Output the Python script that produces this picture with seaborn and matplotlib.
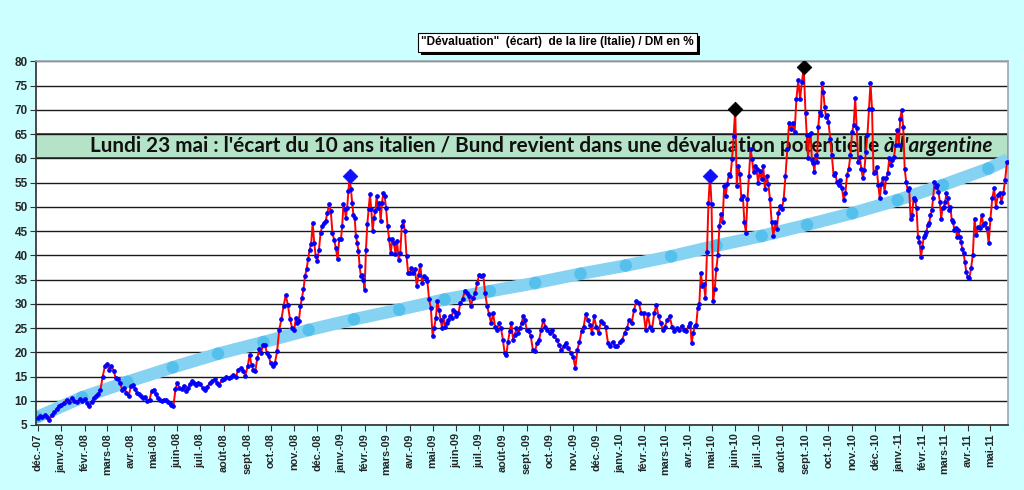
import pandas as pd
import seaborn as sns
import matplotlib.pyplot as plt
from matplotlib.patches import Rectangle

# Mois affichés sur l'axe x
mois = pd.date_range("2007-12-01", "2011-05-01", freq="MS")
etiquettes_mois = [
    "déc.-07",
    "janv.-08", "févr.-08", "mars-08", "avr.-08", "mai-08", "juin-08",
    "juil.-08", "août-08", "sept.-08", "oct.-08", "nov.-08", "déc.-08",
    "janv.-09", "févr.-09", "mars-09", "avr.-09", "mai-09", "juin-09",
    "juil.-09", "août-09", "sept.-09", "oct.-09", "nov.-09", "déc.-09",
    "janv.-10", "févr.-10", "mars-10", "avr.-10", "mai-10", "juin-10",
    "juil.-10", "août-10", "sept.-10", "oct.-10", "nov.-10", "déc.-10",
    "janv.-11", "févr.-11", "mars-11", "avr.-11", "mai-11",
]

# Ecart (en %), mois par mois
v2007 = [
    [6.4, 6.8, 6.6, 7.0, 6.7, 6.0, 7.1, 7.6, 8.3, 8.9],
]
v2008 = [
    [9.2, 9.6, 10.2, 9.7, 10.6, 10.0, 9.8, 10.3, 9.9],
    [10.4, 9.6, 8.9, 9.8, 10.6, 11.0, 11.4, 12.3, 15.0, 17.1],
    [17.5, 16.4, 17.2, 16.2, 14.7, 14.5, 13.7, 12.3, 12.6, 11.7, 10.9],
    [13.0, 13.3, 12.4, 11.6, 11.3, 10.9, 10.6, 10.8, 9.9, 10.2, 12.0],
    [12.3, 11.3, 10.6, 10.1, 9.9, 10.2, 10.1, 9.7, 9.5, 9.2, 8.9, 12.4],
    [13.7, 12.6, 12.4, 13.1, 12.0, 12.7, 13.4, 14.0, 13.6, 13.2, 13.7],
    [13.4, 12.6, 12.3, 12.9, 13.7, 14.0, 14.4, 13.7, 13.3, 14.2],
    [14.4, 15.0, 14.6, 15.0, 15.3, 14.9, 16.4, 16.7, 16.2, 15.2],
    [17.1, 19.5, 17.3, 16.4, 16.1, 18.8, 20.6, 19.8, 21.6, 21.6, 19.9, 19.2],
    [17.8, 17.1, 17.8, 20.2, 24.7, 26.8, 29.5, 31.8, 29.8, 26.8, 25.0],
    [24.7, 27.1, 26.0, 26.5, 29.5, 31.2, 33.0, 35.7, 37.1, 39.2, 41.2, 42.3, 46.7, 42.6, 39.8],
    [38.8, 41.2, 44.7, 46.0, 46.7, 47.1, 48.8, 50.5, 49.1, 44.6, 43.2, 41.5, 39.2, 43.3],
]
v2009 = [
    [43.3, 46.0, 50.5, 49.5, 47.8, 49.8, 53.3, 56.4, 53.6, 50.9, 48.4, 47.8, 44.0, 42.6, 40.9, 37.8, 35.7, 36.0, 34.9],
    [32.9, 41.2, 46.4, 49.5, 52.6, 49.5, 45.0, 47.8, 49.1, 52.2, 49.8, 50.9, 47.1, 50.9, 52.9, 52.2],
    [49.8, 46.0, 43.3, 40.5, 43.3, 42.6, 40.2, 43.0, 39.1, 40.5, 46.0, 47.1, 45.0, 39.8, 36.4],
    [36.4, 37.4, 36.4, 37.1, 33.6, 36.0, 38.1, 34.3, 35.7, 35.4, 34.7, 30.9, 29.1],
    [23.3, 25.0, 27.1, 30.5, 28.8, 26.7, 25.0, 27.4, 25.3, 26.0, 26.7, 27.4, 27.1, 28.8, 28.4],
    [27.4, 28.1, 30.2, 30.9, 32.6, 32.2, 31.6, 29.5, 31.2, 32.2, 34.3],
    [36.0, 35.7, 36.0, 32.2, 29.5, 27.8, 26.0, 28.1, 25.3, 24.7, 26.0, 25.0],
    [22.6, 19.8, 19.5, 22.2, 24.3, 26.0, 22.6, 23.6, 25.0, 24.0, 25.0, 26.0, 27.4, 26.7],
    [24.7, 24.3, 23.3, 20.5, 20.2, 21.9, 22.6, 24.7, 26.7, 25.3, 24.7],
    [24.0, 24.7, 23.3, 22.6, 21.6, 20.5, 21.2, 21.9, 20.9, 19.8],
    [19.1, 16.7, 20.5, 22.2, 24.3, 25.3, 27.8, 26.7, 25.7, 24.0, 27.4],
    [25.3, 24.0, 26.4, 26.0, 25.3, 21.9, 21.2, 22.2, 21.2, 21.2],
]
v2010 = [
    [22.2, 22.6, 24.0, 25.0, 26.7, 26.0, 28.8, 30.5, 30.2, 28.1],
    [28.1, 24.7, 27.8, 25.3, 24.7, 28.1, 29.8, 27.4, 26.0, 24.7],
    [25.3, 26.7, 27.4, 25.3, 24.3, 25.0, 24.7, 25.4, 24.5, 24.3],
    [25.4, 26.0, 21.9, 24.0, 25.4, 25.7, 29.2, 29.9, 36.4, 33.7, 34.0, 31.2, 40.6, 50.9, 56.4],
    [50.6, 30.6, 33.0, 37.1, 40.1, 46.1, 48.5, 46.8, 54.3, 52.3, 54.8, 56.8, 56.4, 59.9, 64.7],
    [70.2, 54.3, 58.5, 56.8, 51.6, 52.3, 46.8, 44.7, 51.6, 56.4, 61.9, 59.9, 57.1, 58.5, 57.8],
    [55.0, 57.4, 55.7, 58.5, 53.7, 56.4, 54.8, 51.6, 46.8, 44.0, 46.8, 45.4, 48.8, 50.2],
    [49.5, 51.6, 56.4, 61.9, 67.4, 66.1, 67.4, 65.4, 72.3, 76.1, 72.3, 75.7, 78.8],
    [69.3, 64.8, 60.0, 64.8, 65.2, 59.7, 59.0, 57.3, 60.7, 59.3, 66.5, 69.6, 68.9, 75.5, 73.7, 70.7, 68.6, 68.9],
    [67.6, 64.1, 60.7, 56.6, 56.9, 55.2, 54.5, 55.5, 53.8, 51.4, 52.8, 56.6, 57.9, 60.7],
    [65.5, 66.9, 72.4, 66.2, 59.3, 60.3, 57.9, 55.9, 57.6, 61.4, 64.8, 70.3, 75.5, 70.3, 56.9],
    [57.2, 58.3, 54.5, 51.8, 54.8, 55.9, 53.1, 55.9, 56.9, 60.0, 58.6, 59.7, 60.3, 62.8, 65.8],
]
v2011 = [
    [62.8, 68.2, 70.0, 66.5, 57.9, 55.2, 53.5, 53.8, 47.6, 48.3, 51.8, 51.4, 49.7, 43.8, 42.8, 39.7],
    [41.8, 43.8, 44.2, 44.9, 46.3, 46.6, 48.3, 49.3, 51.8, 55.2, 54.2, 54.5, 53.1, 51.1, 47.6, 49.7],
    [50.0, 51.1, 52.8, 51.8, 49.3, 50.0, 47.3, 46.9, 45.2, 45.6, 43.8, 45.2, 43.8, 42.8, 41.4, 40.4, 38.7, 36.6],
    [35.6, 35.3, 37.3, 40.1, 47.6, 44.2, 45.9, 45.6, 48.3, 46.3, 46.6, 45.6, 42.5],
    [47.6, 51.8, 53.8, 50.0, 52.4, 52.8, 51.1, 52.8, 55.5, 59.3],
]
fin_donnees = "2011-05-25"

# Tendance (bande bleu clair) : un point tous les ~2 mois + point final
tendance = [6.6, 10.7, 13.9, 16.9, 19.7, 22.1, 24.6, 26.8, 28.8, 30.9, 32.6,
            34.3, 36.2, 37.9, 39.8, 42.0, 44.0, 46.3, 48.7, 51.4, 54.5, 57.9]
tendance_fin = 59.8

# Pics marqués d'un losange
pics_bleus = ["2009-01", "2010-04"]
pics_noirs = ["2010-06", "2010-08"]

titre = '"Dévaluation"  (écart)  de la lire (Italie) / DM en %'
texte_bande = "Lundi 23 mai : l'écart du 10 ans italien / Bund revient dans une dévaluation potentielle "
texte_italique = "à l'argentine"

# --- mise en forme des données ---
blocs = v2007 + v2008 + v2009 + v2010 + v2011
bornes = list(mois[1:]) + [pd.Timestamp(fin_donnees)]
lignes = []
for debut, fin, vals in zip(mois, bornes, blocs):
    pas = (fin - debut) / len(vals)
    for i, v in enumerate(vals):
        lignes.append((debut + i * pas, v))
df = pd.DataFrame(lignes, columns=["date", "ecart"])

dates_tendance = list(pd.date_range("2007-11-30", periods=len(tendance), freq="1423h"))
df_tend = pd.DataFrame({"date": dates_tendance + [pd.Timestamp("2011-05-24")],
                        "valeur": tendance + [tendance_fin]})


def pic(m):
    sous = df[df["date"].dt.strftime("%Y-%m") == m]
    return sous.loc[sous["ecart"].idxmax()]


df_bleu = pd.DataFrame([pic(m) for m in pics_bleus])
df_noir = pd.DataFrame([pic(m) for m in pics_noirs])

# --- figure ---
sns.set_theme(style="white")
plt.rcParams["font.family"] = ["Liberation Sans", "DejaVu Sans"]

fig = plt.figure(figsize=(10.24, 4.9), dpi=100, facecolor="#CCFFFF")
ax = fig.add_axes([0.0352, 0.1327, 0.9492, 0.7418])
ax.set_facecolor("white")

ax.axhspan(60, 65, facecolor="#B5E3C8", edgecolor="#1E4A2E", lw=1.2, zorder=0.2)
ax.grid(axis="y", color="#1a1a1a", lw=1.0, zorder=0.5)
ax.set_axisbelow(True)

sns.lineplot(data=df_tend, x="date", y="valeur", color="#86D2F2", lw=9,
             solid_capstyle="butt", ax=ax, zorder=2)
sns.scatterplot(x=dates_tendance, y=tendance, color="#55C0EC", s=80,
                edgecolor="none", ax=ax, zorder=2.5)

sns.lineplot(data=df, x="date", y="ecart", color="red", lw=1.4, estimator=None,
             sort=False, marker="o", markersize=2.6, markerfacecolor="#0000FF",
             markeredgecolor="#0000FF", ax=ax, zorder=4)

sns.scatterplot(data=df_bleu, x="date", y="ecart", marker="D", s=55,
                color="#1010FF", edgecolor="#1010FF", ax=ax, zorder=5)
sns.scatterplot(data=df_noir, x="date", y="ecart", marker="D", s=55,
                color="black", edgecolor="black", ax=ax, zorder=5)

ax.set_xlim(pd.Timestamp("2007-11-29"), pd.Timestamp("2011-05-24"))
ax.set_ylim(5, 80)
ax.set_yticks(range(5, 81, 5))
ax.set_xticks(mois)
ax.set_xticklabels(etiquettes_mois, rotation=90, fontsize=7.8, fontweight="bold")
ax.set_yticklabels([str(v) for v in range(5, 81, 5)], fontsize=8.5, fontweight="bold")
ax.tick_params(axis="both", direction="out", length=4, width=0.8, color="#333333",
               bottom=True, left=True, pad=2)
ax.set_xlabel("")
ax.set_ylabel("")
for cote in ["top", "right"]:
    ax.spines[cote].set_color("#A0A8B0")
for cote in ["left", "bottom"]:
    ax.spines[cote].set_color("#333333")

# Texte dans la bande verte (taille ajustée pour aller de x=90 à x=1000 px)
police_bande = dict(family=["Lato", "DejaVu Sans"], fontweight="bold", color="#101010")
taille = 14
t1 = ax.text(0.0556, 62.5, texte_bande, transform=ax.get_yaxis_transform(),
             fontsize=taille, va="center", ha="left", zorder=3, **police_bande)
t2 = ax.text(0, 62.5, texte_italique, transform=ax.get_yaxis_transform(),
             fontsize=taille, style="italic", va="center", ha="left", zorder=3,
             **police_bande)
rend = fig.canvas.get_renderer()
largeur = t1.get_window_extent(rend).width + t2.get_window_extent(rend).width
taille = taille * 910 / largeur
t1.set_fontsize(taille)
t2.set_fontsize(taille)
bb = t1.get_window_extent(rend)
t2.set_x(ax.transAxes.inverted().transform((bb.x1, bb.y0))[0])

# Titre encadré avec ombre
tt = fig.text(0.5444, 0.914, titre, ha="center", va="center", fontsize=8.5,
              fontweight="bold", color="black", zorder=3,
              bbox=dict(boxstyle="square,pad=0.3", fc="white", ec="black", lw=0.8))
fig.canvas.draw()
bt = tt.get_bbox_patch().get_window_extent(rend)
fig.patches.append(Rectangle((bt.x0 + 3, bt.y0 - 3), bt.width, bt.height,
                             transform=None, fc="black", ec="none", zorder=2))

fig.savefig("out.png", dpi=100, facecolor=fig.get_facecolor())
